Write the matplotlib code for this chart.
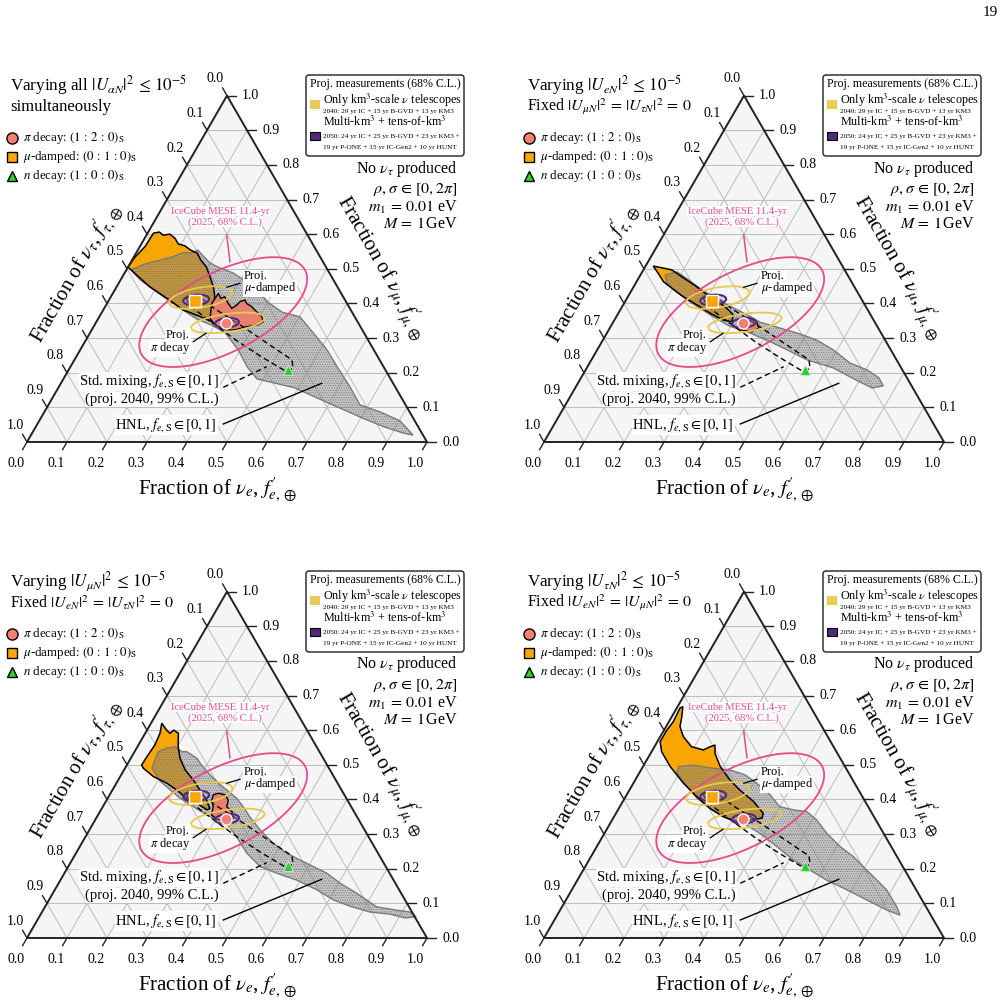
import numpy as np
import matplotlib
matplotlib.use("Agg")
import matplotlib.pyplot as plt
from matplotlib.patches import Polygon, Ellipse, FancyBboxPatch, Rectangle

plt.rcParams['font.family'] = 'serif'
plt.rcParams['font.serif'] = ['Liberation Serif', 'DejaVu Serif']
plt.rcParams['mathtext.fontset'] = 'stix'
plt.rcParams['hatch.linewidth'] = 0.5

# ---- data: flavour fractions (f_e, f_mu) at Earth ----
pi_decay = (0.326, 0.344)
mu_damped = (0.215, 0.408)
n_decay = (0.549, 0.208)

# IceCube MESE 11.4-yr contour: centre (f_e, f_mu), full axes (cartesian), tilt
icecube_center = (0.303, 0.375)
icecube_axes = (0.46, 0.20)
icecube_angle = 27

# projected 2040 (yellow) and 2050 (purple) contours
proj2040_mu = ((0.226, 0.417), (0.16, 0.05), 10)
proj2040_pi = ((0.330, 0.344), (0.185, 0.045), 8)
proj2050_mu = ((0.218, 0.410), (0.065, 0.026), 5)
proj2050_pi = ((0.328, 0.344), (0.06, 0.024), 5)

# standard mixing, f_e,S in [0,1], projected 2040 99% C.L.
std_mix = [(0.190, 0.416), (0.217, 0.422), (0.278, 0.384), (0.364, 0.338), (0.451, 0.289),
           (0.544, 0.237), (0.558, 0.214), (0.549, 0.202), (0.465, 0.245), (0.379, 0.292),
           (0.291, 0.344), (0.211, 0.393)]

# panel A: all mixings
orange_A = [(0.000, 0.505), (0.003, 0.533), (0.013, 0.564), (0.014, 0.588), (0.015, 0.603),
            (0.028, 0.606), (0.042, 0.597), (0.057, 0.600), (0.076, 0.588), (0.092, 0.572),
            (0.112, 0.566), (0.132, 0.554), (0.153, 0.545), (0.172, 0.525), (0.195, 0.506),
            (0.219, 0.477), (0.242, 0.448), (0.260, 0.419), (0.266, 0.400), (0.276, 0.372),
            (0.299, 0.343), (0.252, 0.362), (0.200, 0.381), (0.142, 0.415), (0.083, 0.448),
            (0.033, 0.482)]
salmon_A = [(0.262, 0.400), (0.264, 0.429), (0.277, 0.415), (0.285, 0.419), (0.303, 0.400),
            (0.319, 0.386), (0.327, 0.396), (0.330, 0.405), (0.340, 0.410), (0.349, 0.400),
            (0.366, 0.391), (0.386, 0.376), (0.406, 0.362), (0.417, 0.347), (0.409, 0.338),
            (0.383, 0.333), (0.362, 0.325), (0.350, 0.323), (0.332, 0.325), (0.312, 0.333),
            (0.295, 0.343), (0.279, 0.357)]
gray_A = [(0.012, 0.497), (0.038, 0.514), (0.070, 0.525), (0.096, 0.534), (0.115, 0.546),
          (0.140, 0.546), (0.150, 0.554), (0.172, 0.537), (0.199, 0.517), (0.225, 0.505),
          (0.271, 0.488), (0.313, 0.465), (0.360, 0.436), (0.400, 0.404), (0.450, 0.375),
          (0.502, 0.361), (0.558, 0.315), (0.617, 0.266), (0.667, 0.217), (0.728, 0.159),
          (0.779, 0.107), (0.839, 0.087), (0.902, 0.061), (0.955, 0.020), (0.927, 0.026),
          (0.873, 0.043), (0.812, 0.066), (0.733, 0.098), (0.655, 0.130), (0.592, 0.156),
          (0.535, 0.170), (0.484, 0.182), (0.442, 0.217), (0.395, 0.266), (0.338, 0.315),
          (0.298, 0.335), (0.241, 0.358), (0.137, 0.416), (0.049, 0.468)]

# panel B: only U_eN
orange_B = [(0.019, 0.508), (0.071, 0.497), (0.106, 0.477), (0.158, 0.448), (0.205, 0.419),
            (0.257, 0.391), (0.290, 0.367), (0.296, 0.347), (0.272, 0.352), (0.229, 0.372),
            (0.184, 0.396), (0.139, 0.419), (0.091, 0.448), (0.067, 0.463), (0.042, 0.487)]
salmon_B = [(0.314, 0.346), (0.334, 0.358), (0.359, 0.346), (0.373, 0.329), (0.361, 0.318),
            (0.333, 0.323)]
gray_B = [(0.062, 0.482), (0.087, 0.491), (0.114, 0.476), (0.176, 0.439), (0.243, 0.404),
          (0.307, 0.375), (0.367, 0.346), (0.425, 0.329), (0.484, 0.312), (0.535, 0.294),
          (0.590, 0.266), (0.651, 0.228), (0.704, 0.208), (0.745, 0.185), (0.767, 0.162),
          (0.742, 0.156), (0.671, 0.188), (0.616, 0.214), (0.539, 0.237), (0.475, 0.266),
          (0.410, 0.294), (0.349, 0.318), (0.295, 0.335), (0.238, 0.364), (0.169, 0.401),
          (0.110, 0.436), (0.078, 0.459)]

# panel C: only U_muN
orange_C = [(0.037, 0.499), (0.038, 0.523), (0.041, 0.557), (0.037, 0.591), (0.027, 0.620),
            (0.049, 0.600), (0.062, 0.591), (0.067, 0.600), (0.083, 0.591), (0.102, 0.552),
            (0.123, 0.519), (0.153, 0.485), (0.188, 0.456), (0.219, 0.427), (0.250, 0.398),
            (0.270, 0.374), (0.265, 0.370), (0.230, 0.389), (0.198, 0.403), (0.161, 0.427),
            (0.126, 0.447), (0.083, 0.466), (0.046, 0.490)]
salmon_C = [(0.259, 0.413), (0.269, 0.418), (0.289, 0.413), (0.304, 0.398), (0.310, 0.379),
            (0.330, 0.365), (0.343, 0.346), (0.331, 0.336), (0.303, 0.343), (0.284, 0.355),
            (0.276, 0.379), (0.263, 0.398)]
gray_C = [(0.063, 0.514), (0.059, 0.538), (0.075, 0.548), (0.094, 0.552), (0.118, 0.538),
          (0.130, 0.538), (0.165, 0.519), (0.187, 0.499), (0.222, 0.471), (0.255, 0.447),
          (0.286, 0.427), (0.323, 0.403), (0.351, 0.379), (0.382, 0.350), (0.427, 0.312),
          (0.479, 0.273), (0.527, 0.245), (0.570, 0.225), (0.613, 0.206), (0.656, 0.187),
          (0.704, 0.158), (0.760, 0.129), (0.829, 0.090), (0.880, 0.081), (0.920, 0.075),
          (0.942, 0.061), (0.916, 0.058), (0.873, 0.069), (0.820, 0.075), (0.761, 0.092),
          (0.711, 0.110), (0.655, 0.139), (0.591, 0.167), (0.531, 0.187), (0.480, 0.206),
          (0.427, 0.245), (0.378, 0.292), (0.334, 0.331), (0.292, 0.346), (0.249, 0.367),
          (0.180, 0.404), (0.106, 0.453), (0.067, 0.491)]

# panel D: only U_tauN
orange_D = [(0.007, 0.567), (0.007, 0.600), (0.011, 0.624), (0.008, 0.663), (0.013, 0.668),
            (0.025, 0.639), (0.035, 0.610), (0.058, 0.581), (0.093, 0.552), (0.127, 0.543),
            (0.139, 0.552), (0.149, 0.557), (0.161, 0.533), (0.193, 0.495), (0.237, 0.456),
            (0.276, 0.427), (0.327, 0.394), (0.368, 0.360), (0.372, 0.346), (0.345, 0.341),
            (0.314, 0.336), (0.273, 0.350), (0.228, 0.374), (0.178, 0.408), (0.125, 0.447),
            (0.068, 0.495), (0.025, 0.538)]
salmon_D = []
gray_D = [(0.089, 0.495), (0.124, 0.499), (0.178, 0.490), (0.223, 0.485), (0.267, 0.471),
          (0.308, 0.447), (0.359, 0.413), (0.400, 0.379), (0.438, 0.370), (0.474, 0.365),
          (0.511, 0.341), (0.556, 0.302), (0.608, 0.264), (0.656, 0.235), (0.695, 0.206),
          (0.735, 0.177), (0.787, 0.139), (0.837, 0.090), (0.857, 0.066), (0.816, 0.081),
          (0.752, 0.110), (0.688, 0.139), (0.623, 0.167), (0.567, 0.196), (0.511, 0.225),
          (0.450, 0.264), (0.389, 0.302), (0.333, 0.331), (0.284, 0.346), (0.235, 0.370),
          (0.180, 0.404), (0.130, 0.445), (0.094, 0.476)]

titles = [
    (r"Varying all $|U_{\alpha N}|^2 \,\leq\, 10^{-5}$", "simultaneously"),
    (r"Varying $|U_{eN}|^2 \,\leq\, 10^{-5}$", r"Fixed $|U_{\mu N}|^2 \,=\, |U_{\tau N}|^2 \,=\, 0$"),
    (r"Varying $|U_{\mu N}|^2 \,\leq\, 10^{-5}$", r"Fixed $|U_{eN}|^2 \,=\, |U_{\tau N}|^2 \,=\, 0$"),
    (r"Varying $|U_{\tau N}|^2 \,\leq\, 10^{-5}$", r"Fixed $|U_{eN}|^2 \,=\, |U_{\mu N}|^2 \,=\, 0$"),
]
regions = [(orange_A, salmon_A, gray_A), (orange_B, salmon_B, gray_B),
           (orange_C, salmon_C, gray_C), (orange_D, salmon_D, gray_D)]
offsets = [(0, 0), (517, 0), (0, 496), (517, 496)]
ticks = np.round(np.arange(0, 1.01, 0.1), 1)

ORANGE = '#f9a602'
SALMON = '#e8806f'
PINK = '#e8498a'
YELLOW = '#e6c84f'
PURPLE = '#4e2a78'
S3 = np.sqrt(3) / 2
W, H = 1007, 1006


def tern(pts):
    pts = np.asarray(pts, dtype=float)
    fe, fmu = pts[:, 0], pts[:, 1]
    return np.column_stack([fe + fmu / 2, fmu * S3])


def tp(fe, fmu):
    return fe + fmu / 2, fmu * S3


def P(px, py):
    # layout helper: panel pixel position -> axes data coords
    return (px - 27) / 400, (442 - py) / 400


def tern_ellipse(ax, spec, **kw):
    (fe, fmu), (w, h), ang = spec
    ax.add_patch(Ellipse(tp(fe, fmu), w, h, angle=ang, **kw))


def draw_panel(ax, title, orange, salmon, gray):
    # background, grid, frame
    ax.add_patch(Polygon([(0, 0), (1, 0), (0.5, S3)], closed=True, fc='#f5f5f5', ec='none', zorder=0))
    for v in ticks[1:-1]:
        for a, b in [((v, 0), (v, 1 - v)), ((0, v), (1 - v, v)), ((0, 1 - v), (1 - v, 0))]:
            xy = tern([a, b])
            ax.plot(xy[:, 0], xy[:, 1], color='#bdbdbd', lw=0.7, zorder=0.5)
    ax.add_patch(Polygon([(0, 0), (1, 0), (0.5, S3)], closed=True, fc='none', ec='#222222', lw=1.4, zorder=6))

    L = 0.022
    for v in ticks:
        ax.plot([v, v - 0.5 * L], [0, -S3 * L], color='#222222', lw=1.0)
        ax.text(v - 0.028, -0.053, f"{v:.1f}", ha='center', va='center', fontsize=10)
        x, y = tp(1 - v, v)
        ax.plot([x, x + L], [y, y], color='#222222', lw=1.0)
        ax.text(x + 0.038, y, f"{v:.1f}", ha='left', va='center', fontsize=10)
        x, y = tp(0, 1 - v)
        ax.plot([x, x - 0.5 * L], [y, y + S3 * L], color='#222222', lw=1.0)
        ax.text(x - 0.0075, y + 0.042, f"{v:.1f}", ha='right', va='center', fontsize=10)

    ax.text(*P(217, 490), r"Fraction of $\nu_e$, $f^{\prime}_{e,\oplus}$", ha='center', va='center', fontsize=15)
    ax.text(*P(76, 274), r"Fraction of $\nu_\tau$, $f^{\prime}_{\tau,\oplus}$", ha='center', va='center',
            fontsize=15, rotation=60)
    ax.text(*P(380, 268), r"Fraction of $\nu_\mu$, $f^{\prime}_{\mu,\oplus}$", ha='center', va='center',
            fontsize=15, rotation=-60)

    # regions
    ax.add_patch(Polygon(tern(orange), closed=True, fc=ORANGE, ec='none', zorder=1))
    ax.add_patch(Polygon(tern(gray), closed=True, fc=(0.5, 0.5, 0.5, 0.4), ec='#7a7a7a',
                         hatch='.......', lw=1.0, zorder=2))
    ax.add_patch(Polygon(tern(orange), closed=True, fc='none', ec='black', lw=1.1, zorder=3))
    if salmon:
        ax.add_patch(Polygon(tern(salmon), closed=True, fc=SALMON, ec='black', lw=1.0, zorder=3))

    sm = tern(std_mix)
    ax.add_patch(Polygon(sm, closed=True, fc='none', ec='black', lw=1.0, ls=(0, (4, 2.5)), zorder=4))

    ax.add_patch(Ellipse(tp(*icecube_center), icecube_axes[0], icecube_axes[1], angle=icecube_angle,
                         fc='none', ec=PINK, lw=1.3, zorder=4))
    tern_ellipse(ax, proj2040_mu, fc='none', ec=YELLOW, lw=1.3, zorder=4)
    tern_ellipse(ax, proj2040_pi, fc='none', ec=YELLOW, lw=1.3, zorder=4)
    tern_ellipse(ax, proj2050_mu, fc=(0.7, 0.6, 0.85, 0.4), ec=PURPLE, lw=1.5, zorder=4)
    tern_ellipse(ax, proj2050_pi, fc=(0.7, 0.6, 0.85, 0.4), ec=PURPLE, lw=1.5, zorder=4)

    ax.plot(*tp(*pi_decay), 'o', ms=8, mfc='#f4816f', mec='white', mew=1.0, zorder=7)
    ax.plot(*tp(*mu_damped), 's', ms=8, mfc=ORANGE, mec='white', mew=1.0, zorder=7)
    ax.plot(*tp(*n_decay), '^', ms=7, mfc='#2fcc3a', mec='#c8f0c8', mew=0.6, zorder=7)

    # annotations
    wb = dict(boxstyle='square,pad=0.05', fc='white', ec='none')
    ax.text(*P(220, 211), "IceCube MESE 11.4-yr", color=PINK, ha='center', va='center', fontsize=7.6,
            bbox=wb, zorder=8)
    ax.text(*P(225, 222), "(2025, 68% C.L.)", color=PINK, ha='center', va='center', fontsize=7.6,
            bbox=wb, zorder=8)
    ax.plot(*zip(P(226.7, 235), P(230, 261.7)), color=PINK, lw=1.1, zorder=5)

    ax.text(*P(244, 276.5), "Proj.", ha='left', va='center', fontsize=9, bbox=wb, zorder=8)
    ax.text(*P(244, 288.5), r"$\mu$-damped", ha='left', va='center', fontsize=9, bbox=wb, zorder=8)
    ax.plot(*zip(P(226.7, 287.3), P(240, 283.3)), color='black', lw=0.9, zorder=8)

    ax.text(*P(190, 335), "Proj.", ha='right', va='center', fontsize=9, bbox=wb, zorder=8)
    ax.text(*P(190, 348.5), r"$\pi$ decay", ha='right', va='center', fontsize=9, bbox=wb, zorder=8)
    ax.plot(*zip(P(193.3, 341.7), P(206, 333.3)), color='black', lw=0.9, zorder=8)

    ax.text(*P(219, 381.5), r"Std. mixing, $f_{e,\mathrm{S}} \in [0,1]$", ha='right', va='center',
            fontsize=10.5, bbox=wb, zorder=8)
    ax.text(*P(219, 399.5), "(proj. 2040, 99% C.L.)", ha='right', va='center', fontsize=10.5,
            bbox=wb, zorder=8)
    ax.plot(*zip(P(223.3, 387.3), P(266.7, 366.7)), color='black', lw=1.0, ls=(0, (4, 2.5)), zorder=8)

    ax.text(*P(217, 425), r"HNL, $f_{e,\mathrm{S}} \in [0,1]$", ha='right', va='center', fontsize=10.5,
            bbox=wb, zorder=8)
    ax.plot(*zip(P(223.3, 424), P(321.7, 383.3)), color='black', lw=1.0, zorder=8)

    # panel header
    ax.text(*P(10, 85), title[0], ha='left', va='center', fontsize=12.3)
    ax.text(*P(10, 107), title[1], ha='left', va='center', fontsize=12 if title[1] == "simultaneously" else 11.5)

    leg = [('o', '#f4816f', 8, r"$\pi$ decay: $(1\,:\,2\,:\,0)_{\mathrm{S}}$", 137.7),
           ('s', ORANGE, 7.5, r"$\mu$-damped: $(0\,:\,1\,:\,0)_{\mathrm{S}}$", 156.7),
           ('^', '#2fcc3a', 7.5, r"$n$ decay: $(1\,:\,0\,:\,0)_{\mathrm{S}}$", 175.5)]
    for mk, c, ms, lab, py in leg:
        ax.plot(*P(12, py), mk, ms=ms, mfc=c, mec='black', mew=1.0)
        ax.text(*P(22.5, py), lab, ha='left', va='center', fontsize=9.3)

    # projected measurements box
    x0, y0 = P(306, 156)
    x1, y1 = P(464, 75)
    ax.add_patch(FancyBboxPatch((x0, y0), x1 - x0, y1 - y0, boxstyle='round,pad=0,rounding_size=0.008',
                                fc='white', ec='#333333', lw=1.1, zorder=5))
    ax.text(*P(385, 84), "Proj. measurements (68% C.L.)", ha='center', va='center', fontsize=8.6, zorder=6)
    for (ya, yb), c, ec in [((100, 108.5), '#e8cc5a', 'none'), ((131.5, 140), PURPLE, 'black')]:
        xa, ya_ = P(310, yb)
        xb, yb_ = P(319.5, ya)
        ax.add_patch(Rectangle((xa, ya_), xb - xa, yb_ - ya_, fc=c, ec=ec, lw=0.8, zorder=6))
    ax.text(*P(323, 100), r"Only km$^3$-scale $\nu$ telescopes", ha='left', va='center', fontsize=8.7, zorder=6)
    ax.text(*P(323, 111.5), "2040: 29 yr IC + 15 yr B-GVD + 13 yr KM3", ha='left', va='center', fontsize=5.2,
            zorder=6)
    ax.text(*P(323, 122), r"Multi-km$^3$ + tens-of-km$^3$", ha='left', va='center', fontsize=8.7, zorder=6)
    ax.text(*P(323, 136.5), "2050: 24 yr IC + 25 yr B-GVD + 23 yr KM3 +", ha='left', va='center',
            fontsize=5.2, zorder=6)
    ax.text(*P(323, 147), "19 yr P-ONE + 15 yr IC-Gen2 + 10 yr HUNT", ha='left', va='center', fontsize=5.2,
            zorder=6)

    for s, py in [(r"No $\nu_\tau$ produced", 168.5), (r"$\rho, \sigma \,\in\, [0, 2\pi]$", 189.5),
                  (r"$m_1 \,=\, 0.01$ eV", 207), (r"$M \,=\, 1\,$GeV", 224)]:
        ax.text(*P(457.5, py), s, ha='right', va='center', fontsize=11.5)


fig = plt.figure(figsize=(W / 100, H / 100), dpi=100)
for (ox, oy), title, (orange, salmon, gray) in zip(offsets, titles, regions):
    ax = fig.add_axes([ox / W, 1 - (oy + 503) / H, 503 / W, 463 / H])
    ax.set_xlim(-27 / 400, 476 / 400)
    ax.set_ylim((442 - 503) / 400, (442 - 40) / 400)
    ax.axis('off')
    draw_panel(ax, title, orange, salmon, gray)

fig.text(990 / W, 1 - 13 / H, "19", ha='center', va='center', fontsize=11)
fig.savefig("out.png", dpi=100)
